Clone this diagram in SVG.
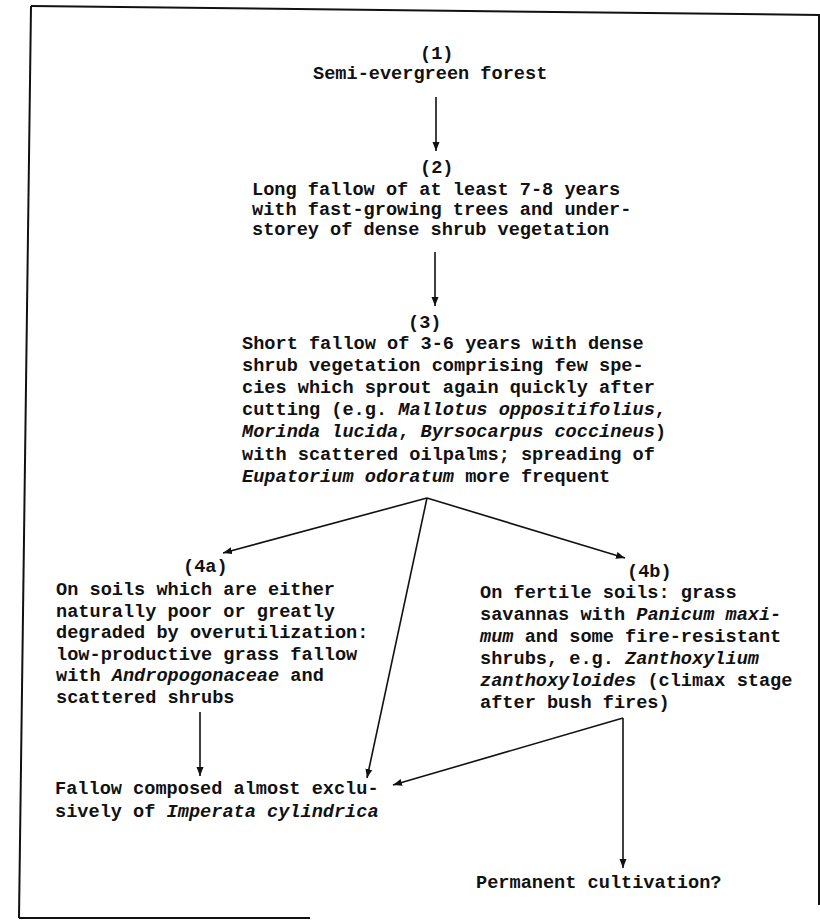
<svg xmlns="http://www.w3.org/2000/svg" width="820" height="920" viewBox="0 0 820 920">
<style>
  text { font-family: "Liberation Mono", "DejaVu Sans Mono", monospace; font-size: 18.6px; font-weight: bold; fill: #111; }
  .i { font-style: italic; }
  .frame { stroke: #111; stroke-width: 2; fill: none; }
  .conn line { stroke: #111; stroke-width: 1.6; marker-end: url(#ah); }
</style>
<defs>
  <marker id="ah" markerUnits="userSpaceOnUse" markerWidth="10" markerHeight="8" refX="9" refY="4" orient="auto">
    <path d="M0,0.5 L9,4 L0,7.5 z" fill="#111"/>
  </marker>
</defs>
<rect width="820" height="920" fill="#fff"/>
<g id="frame" class="frame">
  <line x1="31" y1="6" x2="820" y2="15"/>
  <line x1="31" y1="6" x2="19" y2="918"/>
  <line x1="19" y1="918" x2="310" y2="918"/>
  <line x1="819" y1="15" x2="819" y2="905"/>
</g>
<g id="connectors" class="conn">
  <line x1="436" y1="97" x2="436" y2="151"/>
  <line x1="435" y1="252" x2="435" y2="306"/>
  <line x1="427" y1="498" x2="223" y2="553"/>
  <line x1="427" y1="498" x2="367" y2="778"/>
  <line x1="427" y1="498" x2="625" y2="558"/>
  <line x1="200" y1="712" x2="200" y2="776"/>
  <line x1="623" y1="718" x2="393" y2="785"/>
  <line x1="623" y1="718" x2="623" y2="868"/>
</g>
<g id="n1">
  <text x="420" y="59">(1)</text>
  <text x="313" y="79">Semi-evergreen forest</text>
</g>
<g id="n2">
  <text x="420" y="173">(2)</text>
  <text x="252" y="195">Long fallow of at least 7-8 years</text>
  <text x="252" y="215">with fast-growing trees and under-</text>
  <text x="252" y="235">storey of dense shrub vegetation</text>
</g>
<g id="n3">
  <text x="408" y="328">(3)</text>
  <text x="242" y="349">Short fallow of 3-6 years with dense</text>
  <text x="242" y="371">shrub vegetation comprising few spe-</text>
  <text x="242" y="393">cies which sprout again quickly after</text>
  <text x="242" y="415">cutting (e.g. <tspan class="i">Mallotus oppositifolius</tspan>,</text>
  <text x="242" y="437"><tspan class="i">Morinda lucida</tspan>, <tspan class="i">Byrsocarpus coccineus</tspan>)</text>
  <text x="242" y="460">with scattered oilpalms; spreading of</text>
  <text x="242" y="482"><tspan class="i">Eupatorium odoratum</tspan> more frequent</text>
</g>
<g id="n4a">
  <text x="183" y="572">(4a)</text>
  <text x="56" y="595">On soils which are either</text>
  <text x="56" y="617">naturally poor or greatly</text>
  <text x="56" y="638">degraded by overutilization:</text>
  <text x="56" y="660">low-productive grass fallow</text>
  <text x="56" y="681">with <tspan class="i">Andropogonaceae</tspan> and</text>
  <text x="56" y="703">scattered shrubs</text>
</g>
<g id="n4b">
  <text x="627" y="577">(4b)</text>
  <text x="480" y="598">On fertile soils: grass</text>
  <text x="480" y="620">savannas with <tspan class="i">Panicum maxi-</tspan></text>
  <text x="480" y="642"><tspan class="i">mum</tspan> and some fire-resistant</text>
  <text x="480" y="664">shrubs, e.g. <tspan class="i">Zanthoxylium</tspan></text>
  <text x="480" y="686"><tspan class="i">zanthoxyloides</tspan> (climax stage</text>
  <text x="480" y="708">after bush fires)</text>
</g>
<g id="n5">
  <text x="55" y="794">Fallow composed almost exclu-</text>
  <text x="55" y="817">sively of <tspan class="i">Imperata cylindrica</tspan></text>
</g>
<g id="n6">
  <text x="476" y="888">Permanent cultivation?</text>
</g>
</svg>
